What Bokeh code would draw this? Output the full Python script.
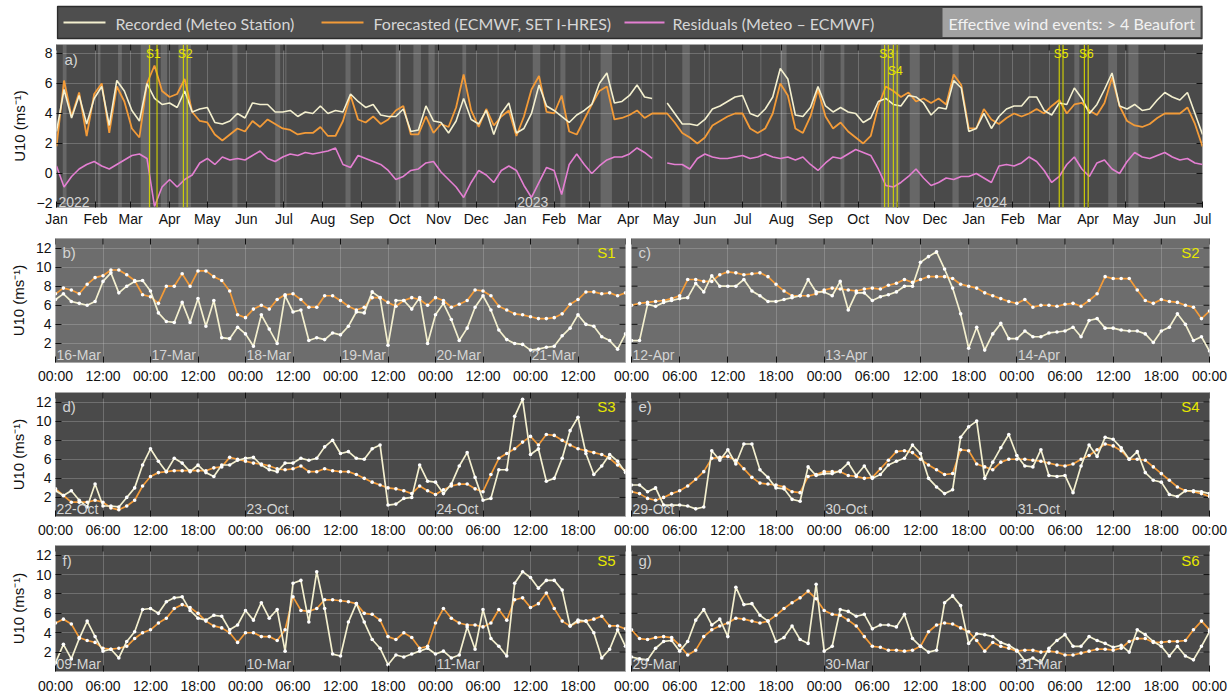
import numpy as np
import pandas as pd
from bokeh.plotting import figure
from bokeh.layouts import column, row
from bokeh.models import (Range1d, FixedTicker, DatetimeTickFormatter, Label, Span, BoxAnnotation)
from bokeh.core.properties import value
from bokeh.embed import file_html
from bokeh.resources import INLINE

# ---------------------------------------------------------------- data: panel a (6-day samples from 2022-01-01)
A_START = "2022-01-01"
A_STEP_DAYS = 6
a_forecast = [1.8, 6.2, 3.8, 5.4, 2.5, 5.3, 6.0, 2.7, 5.8, 4.8,
              3.0, 2.4, 6.0, 7.2, 5.5, 5.1, 5.3, 6.3, 4.1, 3.5,
              3.4, 2.6, 2.2, 2.6, 3.0, 2.8, 3.5, 3.1, 3.6, 3.3,
              3.0, 2.9, 2.6, 2.7, 2.7, 3.1, 2.5, 2.5, 3.5, 5.2,
              3.6, 3.4, 3.8, 3.3, 3.6, 4.2, 4.5, 2.6, 2.6, 3.8,
              2.7, 3.3, 3.1, 4.4, 6.6, 4.2, 3.1, 4.3, 3.2, 3.8,
              4.2, 2.5, 3.8, 5.6, 6.5, 4.1, 4.0, 5.2, 2.8, 2.6,
              3.6, 4.6, 5.5, 5.8, 3.6, 3.7, 3.9, 4.2, 3.7, 4.0,
              4.0, 4.0, 3.4, 2.7, 2.4, 2.0, 2.4, 3.2, 3.5, 3.8,
              4.0, 4.0, 3.0, 2.7, 3.0, 4.0, 6.0, 5.2, 3.0, 2.7,
              3.8, 5.6, 3.8, 3.0, 3.4, 2.8, 2.4, 2.0, 2.5, 4.5,
              5.8, 5.5, 5.1, 5.4, 4.8, 5.0, 4.7, 5.0, 4.6, 6.6,
              5.9, 3.0, 3.0, 4.3, 3.6, 3.3, 3.7, 4.0, 3.8, 4.0,
              4.3, 4.0, 4.5, 4.9, 4.0, 4.6, 4.7, 4.2, 3.9, 4.7,
              6.4, 4.5, 3.5, 3.2, 3.1, 3.3, 3.7, 4.0, 4.0, 4.0,
              4.4, 3.3, 1.8]
a_recorded = [2.8, 5.6, 3.7, 5.2, 3.3, 5.0, 5.8, 3.2, 6.2, 5.5,
              4.2, 3.5, 6.0, 5.0, 4.6, 4.7, 4.4, 5.5, 4.1, 4.3,
              4.4, 3.4, 3.3, 3.5, 4.0, 3.7, 4.7, 4.6, 4.6, 4.1,
              4.1, 4.2, 3.8, 4.1, 4.0, 4.5, 4.0, 4.2, 4.1, 5.3,
              4.8, 4.4, 4.6, 3.9, 3.8, 3.8, 4.3, 2.8, 2.9, 4.5,
              3.5, 3.4, 2.7, 3.5, 5.0, 3.6, 3.3, 4.2, 2.6, 4.0,
              4.7, 2.7, 3.0, 4.0, 5.9, 4.5, 4.2, 3.8, 3.4, 3.9,
              4.2, 4.6, 6.0, 6.7, 4.7, 4.8, 5.2, 5.9, 5.1, 5.0,
              np.nan, 4.7, 4.0, 3.3, 3.3, 3.2, 3.6, 4.3, 4.5, 4.8,
              5.1, 5.2, 4.0, 3.8, 4.3, 5.1, 7.0, 6.3, 3.9, 3.8,
              4.4, 5.8, 4.5, 4.1, 4.4, 4.1, 4.0, 3.4, 3.7, 4.8,
              5.0, 4.6, 4.5, 5.2, 5.1, 4.7, 3.9, 4.4, 4.3, 6.2,
              5.7, 2.8, 3.0, 4.0, 3.0, 3.8, 4.3, 4.5, 4.5, 5.1,
              5.1, 4.2, 3.9, 4.7, 4.6, 5.7, 5.0, 4.0, 4.6, 5.6,
              6.7, 4.5, 4.3, 4.6, 4.2, 4.3, 4.9, 5.4, 5.1, 4.9,
              5.4, 4.0, 2.6]
a_residual = [0.5, -0.9, -0.2, 0.3, 0.6, 0.8, 0.5, 0.3, 0.6, 0.9,
              1.2, 1.3, 1.0, -2.2, -0.9, -0.4, -0.9, -0.4, -0.1, 0.7,
              1.0, 0.6, 1.1, 0.9, 1.0, 0.9, 1.2, 1.5, 1.0, 0.8,
              1.1, 1.3, 1.2, 1.4, 1.3, 1.4, 1.5, 1.7, 0.6, 0.4,
              1.2, 1.0, 0.8, 0.6, 0.2, -0.4, -0.2, 0.2, 0.3, 0.7,
              0.8, 0.1, -0.4, -0.9, -1.6, -0.6, 0.2, -0.1, -0.6, 0.2,
              0.5, 0.2, -0.8, -1.6, -0.6, 0.4, 0.2, -1.4, 0.6, 1.3,
              0.6, 0.0, 0.5, 0.9, 1.1, 1.1, 1.3, 1.7, 1.4, 1.0,
              np.nan, 0.7, 0.6, 0.6, 0.3, 1.0, 1.3, 1.1, 1.0, 1.0,
              1.1, 1.2, 1.0, 1.1, 1.3, 1.1, 1.0, 1.1, 0.9, 1.1,
              0.6, 0.2, 0.7, 1.1, 1.0, 1.3, 1.6, 1.4, 1.2, 0.3,
              -0.8, -0.9, -0.6, -0.2, 0.3, -0.3, -0.8, -0.6, -0.3, -0.4,
              -0.2, -0.2, 0.0, -0.3, -0.6, 0.5, 0.6, 0.5, 0.7, 1.1,
              0.8, 0.2, -0.6, -0.2, 0.6, 1.1, 0.3, -0.2, 0.7, 0.9,
              0.3, 0.0, 0.8, 1.4, 1.1, 1.0, 1.2, 1.4, 1.1, 0.9,
              1.0, 0.7, 0.6]

# effective wind events (> 4 Beaufort): start / end dates
event_start = ["2022-01-06", "2022-02-03", "2022-02-19", "2022-03-09", "2022-03-25", "2022-04-08",
               "2022-05-21", "2022-06-24", "2022-07-02", "2022-08-19", "2022-09-28", "2022-10-12",
               "2022-10-24", "2022-11-20", "2022-12-18", "2023-01-15", "2023-02-06", "2023-02-22",
               "2023-03-10", "2023-04-11", "2023-04-20", "2023-05-14", "2023-06-04", "2023-07-15",
               "2023-07-31", "2023-08-25", "2023-09-01", "2023-09-17", "2023-10-19", "2023-11-11",
               "2023-12-15", "2024-01-21", "2024-02-14", "2024-03-21", "2024-04-17", "2024-05-03"]
event_end = ["2022-01-09", "2022-02-05", "2022-02-22", "2022-03-17", "2022-03-30", "2022-04-18",
             "2022-05-25", "2022-06-28", "2022-07-03", "2022-08-23", "2022-10-02", "2022-10-18",
             "2022-10-29", "2022-11-23", "2022-12-19", "2023-01-21", "2023-02-10", "2023-02-23",
             "2023-03-19", "2023-04-12", "2023-04-21", "2023-05-20", "2023-06-05", "2023-07-16",
             "2023-08-05", "2023-08-26", "2023-09-04", "2023-09-20", "2023-11-03", "2023-11-19",
             "2023-12-20", "2024-01-22", "2024-02-15", "2024-03-25", "2024-04-24", "2024-05-11"]

# storms
storm_names = ["S1", "S2", "S3", "S4", "S5", "S6"]
storm_start = ["2022-03-16", "2022-04-12", "2023-10-22", "2023-10-29", "2024-03-09", "2024-03-29"]
storm_days = [6, 3, 3, 3, 3, 3]

# ---------------------------------------------------------------- data: zoom panels
# b) S1 : 2-hourly, c)-g) : hourly
b_rec = [6.6, 7.2, 6.4, 6.2, 6.0, 6.4, 8.5, 9.4, 7.3, 8.0, 8.5, 8.6, 7.5, 5.2, 4.3, 4.2, 6.3, 4.2, 6.7, 3.8,
         6.5, 2.6, 2.5, 3.7, 3.0, 1.7, 5.0, 3.5, 2.0, 7.0, 5.3, 5.5, 2.3, 2.6, 2.4, 3.1, 2.9, 3.8, 5.3, 5.2,
         7.4, 6.8, 1.8, 6.5, 6.5, 5.6, 6.8, 2.0, 5.0, 6.2, 4.5, 2.3, 3.6, 5.8, 7.0, 5.5, 3.4, 2.4, 2.0, 1.9,
         1.3, 1.4, 1.6, 1.7, 2.8, 3.6, 5.0, 4.0, 3.8, 2.7, 2.3, 1.4, 3.0]
b_fc = [7.2, 7.8, 7.6, 7.2, 8.2, 8.9, 9.1, 9.7, 9.7, 9.2, 8.6, 7.1, 6.9, 6.2, 8.0, 8.0, 9.3, 8.0, 9.6, 9.6,
        9.0, 8.6, 7.5, 5.0, 4.7, 5.6, 6.0, 5.6, 6.6, 7.1, 7.2, 6.6, 5.8, 5.8, 7.0, 7.0, 6.5, 5.9, 5.5, 5.8,
        6.8, 6.8, 6.3, 5.9, 6.5, 6.8, 6.6, 6.0, 6.8, 6.5, 5.8, 6.1, 6.5, 7.6, 7.5, 7.0, 5.9, 5.5, 5.1, 5.0,
        4.8, 4.6, 4.6, 4.7, 5.1, 6.1, 6.6, 7.4, 7.4, 7.2, 7.3, 7.0, 7.3]
c_rec = [2.3, 2.3, 6.1, 5.9, 6.3, 6.5, 6.7, 6.8, 8.3, 7.4, 9.1, 8.0, 8.0, 8.0, 8.7, 7.5, 7.0, 6.4, 6.4, 6.6,
         6.8, 7.0, 8.7, 7.4, 7.4, 7.0, 8.5, 5.5, 7.3, 7.3, 6.5, 6.9, 7.1, 7.4, 8.0, 8.0, 10.5, 11.1, 11.6, 9.8,
         7.8, 5.1, 1.5, 3.7, 1.3, 3.0, 4.1, 2.5, 2.5, 3.3, 2.7, 2.7, 3.1, 3.2, 3.3, 3.7, 2.7, 4.4, 4.6, 3.6,
         3.6, 3.4, 3.3, 3.3, 3.0, 2.1, 3.3, 3.7, 5.1, 4.0, 2.3, 2.7, 1.2]
c_fc = [6.0, 6.2, 6.3, 6.4, 6.5, 6.7, 7.0, 8.7, 8.7, 8.5, 8.5, 9.2, 9.5, 9.4, 9.2, 9.3, 9.4, 9.0, 8.2, 7.5,
        7.0, 7.0, 7.0, 7.2, 7.6, 7.8, 7.7, 7.6, 7.5, 7.7, 7.8, 7.7, 8.1, 8.3, 8.7, 8.4, 8.7, 9.0, 9.0, 9.0,
        8.8, 8.2, 8.0, 7.8, 7.3, 7.0, 6.7, 6.4, 6.2, 6.6, 5.8, 6.0, 6.0, 5.9, 6.1, 6.2, 5.9, 6.5, 7.2, 9.0,
        8.8, 8.8, 8.8, 7.6, 6.5, 6.2, 6.6, 6.4, 6.3, 6.0, 5.8, 4.6, 5.4]
d_rec = [2.7, 2.2, 2.7, 1.7, 1.0, 3.4, 1.1, 1.1, 1.0, 2.0, 3.0, 5.4, 7.1, 5.8, 4.7, 6.1, 5.6, 4.7, 5.4, 4.6,
         4.2, 5.4, 5.4, 5.9, 6.1, 6.2, 5.4, 4.9, 4.7, 5.6, 5.6, 6.1, 5.9, 6.1, 7.3, 8.0, 6.6, 6.8, 6.1, 6.0,
         7.1, 7.5, 1.2, 1.3, 1.9, 2.0, 5.4, 3.7, 3.6, 2.4, 3.4, 5.3, 6.7, 4.1, 1.7, 1.9, 4.9, 4.9, 10.5, 12.3,
         6.5, 7.1, 3.7, 4.0, 6.1, 9.0, 10.4, 6.6, 4.4, 5.3, 6.5, 5.8, 4.6]
d_fc = [2.9, 2.2, 1.5, 1.5, 1.5, 1.7, 1.5, 0.9, 0.7, 1.1, 1.7, 3.2, 4.2, 4.6, 4.7, 4.8, 4.8, 4.8, 4.8, 4.8,
        5.1, 5.2, 6.2, 6.0, 5.8, 5.6, 5.5, 5.3, 5.0, 4.9, 5.0, 5.3, 4.7, 4.7, 5.0, 4.8, 4.7, 4.7, 4.4, 4.0,
        3.6, 3.3, 3.0, 2.9, 2.7, 2.4, 3.2, 2.7, 2.3, 2.8, 3.2, 3.4, 3.4, 2.9, 2.6, 4.4, 6.1, 6.6, 7.1, 7.8,
        8.4, 7.5, 8.6, 8.5, 8.0, 7.5, 7.1, 6.9, 6.7, 6.5, 6.1, 5.4, 4.8]
e_rec = [3.3, 3.3, 2.6, 3.0, 1.2, 1.2, 1.2, 1.1, 0.8, 1.0, 6.9, 5.9, 7.0, 5.5, 7.6, 7.6, 4.9, 4.1, 3.0, 2.9,
         1.8, 1.6, 5.2, 4.3, 4.5, 4.5, 4.8, 5.6, 4.3, 5.3, 4.0, 4.4, 5.4, 5.8, 6.1, 7.5, 6.6, 4.0, 3.1, 2.4,
         2.8, 8.3, 9.4, 10.0, 4.0, 5.7, 7.2, 8.6, 6.4, 5.3, 5.2, 7.0, 4.3, 4.2, 4.3, 2.5, 5.3, 7.5, 6.3, 8.3,
         8.1, 7.2, 6.0, 6.8, 4.6, 3.8, 3.6, 2.3, 2.1, 2.7, 2.7, 2.6, 2.4]
e_fc = [2.6, 2.4, 1.9, 1.7, 2.0, 2.4, 2.7, 3.2, 3.9, 4.7, 6.1, 6.2, 6.3, 5.9, 5.0, 4.1, 3.5, 3.4, 3.3, 3.1,
        2.6, 2.5, 4.2, 4.4, 4.7, 4.7, 4.7, 4.3, 4.2, 4.0, 4.1, 5.0, 5.9, 6.8, 6.9, 6.7, 6.0, 5.4, 4.9, 4.4,
        4.5, 7.0, 6.9, 5.5, 5.2, 4.9, 5.7, 6.0, 6.0, 6.0, 5.9, 5.8, 5.6, 5.4, 5.3, 5.5, 6.0, 6.4, 7.0, 7.6,
        7.4, 6.9, 6.0, 6.0, 5.9, 5.2, 4.5, 3.8, 3.1, 2.7, 2.6, 2.4, 2.1]
f_rec = [0.9, 2.8, 1.3, 3.4, 5.2, 3.6, 2.1, 2.3, 1.4, 3.1, 4.1, 6.4, 6.5, 6.0, 7.2, 7.6, 7.7, 6.3, 5.5, 5.3,
         5.8, 5.7, 4.3, 4.8, 6.3, 5.3, 7.1, 5.5, 6.4, 2.1, 9.1, 9.4, 5.1, 10.3, 6.5, 1.8, 1.6, 5.1, 7.0, 5.1,
         3.3, 2.4, 0.7, 1.7, 1.5, 1.8, 2.1, 2.4, 1.8, 2.1, 1.4, 1.7, 4.6, 2.3, 6.4, 3.4, 2.6, 1.6, 9.1, 10.3,
         9.7, 8.6, 9.4, 9.4, 8.4, 4.7, 5.3, 5.2, 4.0, 1.4, 2.3, 4.3, 2.6]
f_fc = [5.0, 5.4, 4.9, 3.5, 3.2, 3.0, 2.4, 2.3, 2.4, 2.6, 3.4, 4.0, 4.3, 5.0, 5.5, 6.5, 6.9, 6.6, 6.0, 5.2,
        4.7, 4.5, 4.0, 3.0, 4.0, 4.0, 3.6, 3.6, 3.2, 4.3, 7.7, 6.3, 6.2, 6.5, 7.4, 7.4, 7.3, 7.2, 7.0, 6.0,
        5.9, 5.3, 3.6, 3.3, 4.0, 3.5, 2.4, 2.6, 5.0, 6.5, 5.5, 5.0, 4.8, 4.8, 4.6, 5.0, 6.4, 5.3, 7.4, 7.6,
        6.6, 7.0, 8.1, 6.5, 5.2, 4.7, 5.1, 5.2, 5.4, 5.7, 4.7, 4.7, 4.4]
g_rec = [1.5, 1.3, 1.2, 2.4, 3.1, 3.2, 2.1, 3.1, 5.3, 6.4, 4.8, 5.4, 3.6, 8.7, 6.9, 7.0, 5.8, 5.2, 3.1, 3.5,
         4.7, 3.3, 2.9, 9.0, 2.1, 2.6, 6.4, 6.2, 5.7, 5.9, 4.4, 4.8, 4.8, 4.6, 5.9, 3.4, 2.6, 2.0, 2.2, 7.1,
         7.8, 6.8, 2.9, 3.9, 3.8, 3.6, 3.0, 2.7, 2.2, 1.1, 1.4, 0.9, 2.4, 3.2, 3.8, 2.6, 2.6, 3.6, 3.2, 2.9,
         2.5, 2.7, 2.0, 4.3, 3.8, 3.1, 2.6, 1.6, 2.6, 1.6, 1.2, 2.6, 4.1]
g_fc = [4.3, 3.4, 3.3, 3.5, 3.6, 3.5, 2.7, 1.7, 2.2, 3.6, 4.3, 4.7, 5.0, 5.5, 5.4, 5.2, 5.0, 5.2, 5.8, 6.5,
        7.1, 7.6, 8.3, 7.5, 6.3, 5.9, 5.8, 5.3, 4.7, 3.6, 2.6, 2.5, 2.2, 2.2, 2.1, 2.2, 2.6, 4.1, 4.8, 5.0,
        4.9, 4.5, 4.1, 3.2, 2.1, 3.0, 2.6, 2.4, 2.1, 2.2, 2.2, 2.0, 2.1, 2.0, 1.7, 1.7, 1.9, 2.1, 2.3, 2.3,
        2.2, 2.4, 3.1, 3.4, 3.4, 3.0, 3.0, 3.1, 3.1, 3.2, 4.3, 5.2, 4.3]

legend_labels = ["Recorded (Meteo Station)", "Forecasted (ECMWF, SET I-HRES)",
                 "Residuals (Meteo \u2013 ECMWF)", "Effective wind events: > 4 Beaufort"]
Y_LABEL = "U10 (ms\u207b\u00b9)"

# ---------------------------------------------------------------- style
C_REC = "#f4f0cf"
C_FC = "#f39b38"
C_RES = "#e47fd2"
C_STORM = "#d7d700"
C_STORM_TXT = "#e8e800"
BG_A = "#4a4a4a"
BG_LIGHT = "#6d6d6d"
BG_DARK = "#4a4a4a"
TXT_IN = "#d4d4d4"
FONT = "Liberation Sans"
TICK_C = "#111111"
W = 1228


def ms(t):
    return pd.Timestamp(t).value / 1e6


def style_axis(ax, standoff):
    ax.axis_line_color = None
    ax.major_tick_in = 6
    ax.major_tick_out = 0
    ax.major_tick_line_color = TICK_C
    ax.minor_tick_line_color = None
    ax.major_label_text_font = FONT
    ax.major_label_text_color = TICK_C
    ax.major_label_text_font_size = "14px"
    ax.major_label_standoff = standoff


def style_ylabel(ax):
    ax.axis_label = Y_LABEL
    ax.axis_label_text_font = FONT
    ax.axis_label_text_font_size = "15px"
    ax.axis_label_text_font_style = "normal"
    ax.axis_label_text_color = TICK_C
    ax.axis_label_standoff = 6


def base_fig(width, height, xr, yr, bg, mbl, mbr, mbt, mbb):
    p = figure(width=width, height=height, x_axis_type="datetime", x_range=xr, y_range=yr,
               output_backend="svg", toolbar_location=None,
               min_border_left=mbl, min_border_right=mbr, min_border_top=mbt, min_border_bottom=mbb,
               background_fill_color=bg, border_fill_color="white",
               outline_line_color="#a8a8a8", outline_line_width=1)
    p.xgrid.grid_line_color = "#d0d0d0"
    p.xgrid.grid_line_alpha = 0.28
    p.ygrid.grid_line_color = "#d0d0d0"
    p.ygrid.grid_line_alpha = 0.28
    return p


def inner_ticks(p, xticks, yticks, x0, x1, ytop, left):
    """short tick marks pointing into the frame on the top / right (and left) edges"""
    p.ray(x=xticks, y=[ytop] * len(xticks), length=6, length_units="screen", angle=-np.pi / 2,
          line_color=TICK_C, line_width=1)
    p.ray(x=[x1] * len(yticks), y=yticks, length=6, length_units="screen", angle=np.pi,
          line_color=TICK_C, line_width=1)
    if left:
        p.ray(x=[x0] * len(yticks), y=yticks, length=6, length_units="screen", angle=0,
              line_color=TICK_C, line_width=1)


# ---------------------------------------------------------------- legend strip
leg = figure(width=W, height=42, x_range=Range1d(56, 1202), y_range=Range1d(42, 0),
             output_backend="svg", toolbar_location=None,
             min_border_left=56, min_border_right=26, min_border_top=0, min_border_bottom=0,
             x_axis_location=None, y_axis_location=None, outline_line_color=None,
             background_fill_color="white", border_fill_color="white")
leg.grid.visible = False
leg.quad(left=57, right=1202, top=6, bottom=38, fill_color="#4e4e4e", line_color="#2c2c2c", line_width=1.5)
leg.quad(left=942, right=1200, top=7.5, bottom=36.5, fill_color="#a2a2a2", line_color=None)
leg.segment(x0=[63, 321, 624], x1=[105, 363, 664], y0=[22, 22, 22], y1=[22, 22, 22],
            line_color=[C_REC, C_FC, C_RES], line_width=2.2)
leg.text(x=[115, 373, 672, 948], y=[22.5] * 4, text=legend_labels,
         text_font=value("Lato"), text_font_size="16px", text_baseline="middle",
         text_color=["#d6d6d6", "#d6d6d6", "#d6d6d6", "#f2f2f2"])

# ---------------------------------------------------------------- panel a
A_X0, A_X1 = ms("2022-01-01"), ms("2024-07-01")
A_Y0, A_Y1 = -2.27, 8.6
a_dates = pd.Timestamp(A_START) + pd.to_timedelta(np.arange(len(a_forecast)) * A_STEP_DAYS, unit="D")
month_ticks = [ms(d) for d in pd.date_range("2022-01-01", "2024-07-01", freq="MS")]
a_yticks = [-2, 0, 2, 4, 6, 8]
pa = base_fig(W, 190, Range1d(A_X0, A_X1), Range1d(A_Y0, A_Y1), BG_A, 56, 26, 2, 25)
pa.xaxis.ticker = FixedTicker(ticks=month_ticks)
pa.xaxis.formatter = DatetimeTickFormatter(days="%b", months="%b", years="%b")
pa.yaxis.ticker = FixedTicker(ticks=a_yticks)
for ax in pa.xaxis:
    style_axis(ax, 3)
for ax in pa.yaxis:
    style_axis(ax, 4)
    style_ylabel(ax)
inner_ticks(pa, month_ticks, a_yticks, A_X0, A_X1, A_Y1, False)

for s, e in zip(event_start, event_end):
    pa.add_layout(BoxAnnotation(left=ms(s), right=ms(e), fill_color="white", fill_alpha=0.16,
                                line_color=None, level="underlay"))
for name, s, nd in zip(storm_names, storm_start, storm_days):
    t0 = pd.Timestamp(s)
    t1 = t0 + pd.Timedelta(days=nd)
    for t in (t0, t1):
        pa.add_layout(Span(location=ms(t), dimension="height", line_color=C_STORM,
                           line_width=1.2, line_alpha=0.9))
    pa.add_layout(Label(x=ms(t0 + (t1 - t0) / 2), y=6.85 if name == "S4" else 7.95, text=name,
                        text_align="center", text_baseline="middle", text_color=C_STORM_TXT,
                        text_font=FONT, text_font_size="12px"))

pa.line(a_dates, a_residual, line_color=C_RES, line_width=1.6)
pa.line(a_dates, a_forecast, line_color=C_FC, line_width=1.8)
pa.line(a_dates, a_recorded, line_color=C_REC, line_width=1.6)

pa.add_layout(Label(x=A_X0, y=7.6, x_offset=8, text="a)", text_color=TXT_IN,
                    text_font=FONT, text_font_size="15px", text_baseline="middle"))
for yr in ["2022", "2023", "2024"]:
    pa.add_layout(Label(x=ms(yr + "-01-01"), y=A_Y0, x_offset=2, y_offset=1, text=yr,
                        text_color=TXT_IN, text_font=FONT, text_font_size="14px",
                        text_baseline="bottom"))


# ---------------------------------------------------------------- zoom panels
def zoom_panel(letter, storm, start, n_days, step_h, tick_h, rec, fc, bg, left_side,
               height, mbt, mbb, standoff):
    t0 = pd.Timestamp(start)
    t1 = t0 + pd.Timedelta(days=n_days)
    times = t0 + pd.to_timedelta(np.arange(len(rec)) * step_h, unit="h")
    if left_side:
        width, mbl, mbr = 628, 55, 3
    else:
        width, mbl, mbr = 620, 23, 19
    p = base_fig(width, height, Range1d(ms(t0), ms(t1)), Range1d(0, 13), bg, mbl, mbr, mbt, mbb)
    all_ticks = [ms(t0 + pd.Timedelta(hours=h)) for h in range(0, n_days * 24 + 1, tick_h)]
    yticks = [2, 4, 6, 8, 10, 12]
    lab_ticks = all_ticks[:-1] if left_side else all_ticks
    p.xaxis.ticker = FixedTicker(ticks=lab_ticks)
    p.xaxis.formatter = DatetimeTickFormatter(hours="%H:%M", hourmin="%H:%M", days="%H:%M",
                                              minutes="%H:%M")
    p.xgrid.ticker = FixedTicker(ticks=all_ticks)
    p.yaxis.ticker = FixedTicker(ticks=yticks)
    for ax in p.xaxis:
        style_axis(ax, standoff)
    if left_side:
        for ax in p.yaxis:
            style_axis(ax, 4)
            style_ylabel(ax)
    else:
        p.yaxis.visible = False
        p.border_fill_alpha = 0
        p.margin = (0, 0, 0, -20)
    inner_ticks(p, all_ticks, yticks, ms(t0), ms(t1), 13, not left_side)

    p.line(times, fc, line_color=C_FC, line_width=1.7)
    p.line(times, rec, line_color=C_REC, line_width=1.7)
    p.scatter(times, fc, size=3.6, fill_color="white", line_color=None)
    p.scatter(times, rec, size=3.6, fill_color="white", line_color=None)

    p.add_layout(Label(x=ms(t0), y=11.5, x_offset=7, text=letter + ")", text_color=TXT_IN,
                       text_font=FONT, text_font_size="15px", text_baseline="middle"))
    p.add_layout(Label(x=ms(t1), y=11.5, x_offset=-10, text=storm, text_align="right",
                       text_color=C_STORM_TXT, text_font=FONT, text_font_size="15px",
                       text_baseline="middle"))
    for d in range(n_days):
        day = t0 + pd.Timedelta(days=d)
        p.add_layout(Label(x=ms(day), y=0, x_offset=1, y_offset=0, text=day.strftime("%d-%b"),
                           text_color=TXT_IN, text_font=FONT, text_font_size="14px",
                           text_baseline="bottom"))
    return p


pb = zoom_panel("b", "S1", storm_start[0], storm_days[0], 2, 12, b_rec, b_fc, BG_LIGHT, True, 154, 6, 21, 5)
pc = zoom_panel("c", "S2", storm_start[1], storm_days[1], 1, 6, c_rec, c_fc, BG_LIGHT, False, 154, 6, 21, 5)
pd_ = zoom_panel("d", "S3", storm_start[2], storm_days[2], 1, 6, d_rec, d_fc, BG_DARK, True, 154, 6, 21, 5)
pe = zoom_panel("e", "S4", storm_start[3], storm_days[3], 1, 6, e_rec, e_fc, BG_DARK, False, 154, 6, 21, 5)
pf = zoom_panel("f", "S5", storm_start[4], storm_days[4], 1, 6, f_rec, f_fc, BG_DARK, True, 156, 5, 23, 6)
pg = zoom_panel("g", "S6", storm_start[5], storm_days[5], 1, 6, g_rec, g_fc, BG_DARK, False, 156, 5, 23, 6)

layout = column(leg, pa, row(pb, pc, spacing=0), row(pd_, pe, spacing=0), row(pf, pg, spacing=0),
                spacing=0)

open("out.html", "w").write(file_html(layout, INLINE))
